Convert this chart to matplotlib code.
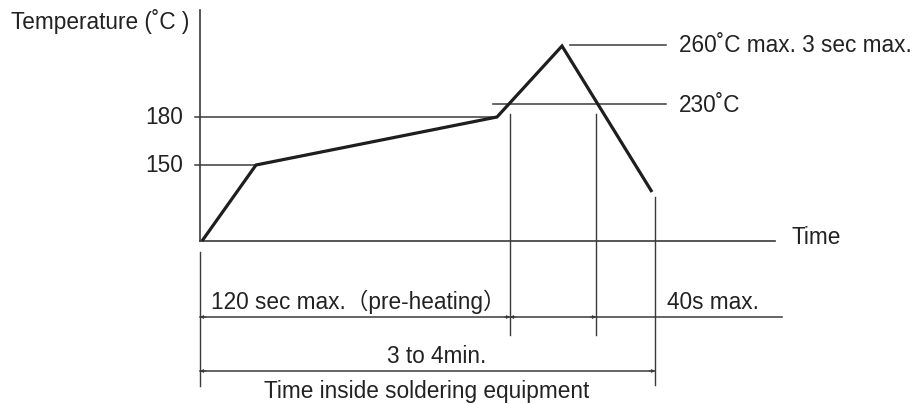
import matplotlib.pyplot as plt

plt.rcParams['font.family'] = ['Liberation Sans', 'Noto Sans CJK JP', 'DejaVu Sans']

# diagram is schematic (not to scale): positions in drawing units
# reflow profile: start, end of ramp (150), end of pre-heat (180), peak (260), exit
profile_x = [202, 256, 497, 562, 652]
profile_y = [241, 165, 117, 46, 192]

# temperature levels on the y axis
temp_labels = ['150', '180']
temp_y = [165, 117]
temp_line_end = [256, 497]

# callout lines on the right
callout_labels = ['260˚C max. 3 sec max.', '230˚C']
callout_y = [45, 104]
callout_start = [570, 493]

# time markers (vertical guide lines)
mark_x = [510, 596, 655]
mark_top = [114, 114, 197]
mark_bottom = [335, 335, 385]

# dimension rows
row1_y = 317
row2_y = 371
row1_labels = ['120 sec max.（pre-heating）', '40s max.']
row1_x = [211, 667]
row2_label = '3 to 4min.'

line_c = '#3a3a3a'
txt_c = '#222222'
fs = 16.3

fig = plt.figure(figsize=(9.17, 4.04), dpi=100)
ax = fig.add_axes([0, 0, 1, 1])
ax.set_xlim(0, 917)
ax.set_ylim(404, 0)
ax.axis('off')

# axes
ax.plot([200, 200], [10, 241], color=line_c, lw=1.2)
ax.plot([200, 775], [241, 241], color=line_c, lw=1.2)
ax.text(11, 21, 'Temperature (˚C )', fontsize=fs, color=txt_c, va='center')
ax.text(791, 238, 'Time', fontsize=fs, color=txt_c, va='center')

# temperature levels
for lab, y, xe in zip(temp_labels, temp_y, temp_line_end):
    ax.plot([195, xe], [y, y], color=line_c, lw=1.1)
    ax.text(183, y, lab, fontsize=fs, color=txt_c, va='center', ha='right')

# callouts
for lab, y, xs in zip(callout_labels, callout_y, callout_start):
    ax.plot([xs, 666], [y, y], color=line_c, lw=1.1)
    ax.text(679, y + 1, lab, fontsize=fs, color=txt_c, va='center')

# profile
ax.plot(profile_x, profile_y, color='#1e1e1e', lw=2.3, solid_capstyle='butt',
        solid_joinstyle='miter')

# guide lines
for x, t, b in zip(mark_x, mark_top, mark_bottom):
    ax.plot([x, x], [t, b], color=line_c, lw=1.0)
ax.plot([200, 200], [252, 386], color=line_c, lw=1.0)

# dimension rows
ax.plot([200, 782], [row1_y, row1_y], color=line_c, lw=1.1)
ax.plot([200, 655], [row2_y, row2_y], color=line_c, lw=1.1)
arrow = dict(arrowstyle='-|>', color=line_c, lw=0.6, mutation_scale=5,
             shrinkA=0, shrinkB=0)
for (xa, xb, y) in [(206, 200, row1_y), (504, 510, row1_y), (516, 510, row1_y),
                    (590, 596, row1_y), (206, 200, row2_y), (649, 655, row2_y)]:
    ax.annotate('', xy=(xb, y), xytext=(xa, y), arrowprops=arrow)

for lab, x in zip(row1_labels, row1_x):
    ax.text(x, 309, lab, fontsize=fs, color=txt_c, va='baseline')
ax.text(437, 363, row2_label, fontsize=fs, color=txt_c, va='baseline', ha='center')
ax.text(427, 403, 'Time inside soldering equipment', fontsize=fs, color=txt_c,
        va='bottom', ha='center')

fig.savefig('out.png', dpi=100)
